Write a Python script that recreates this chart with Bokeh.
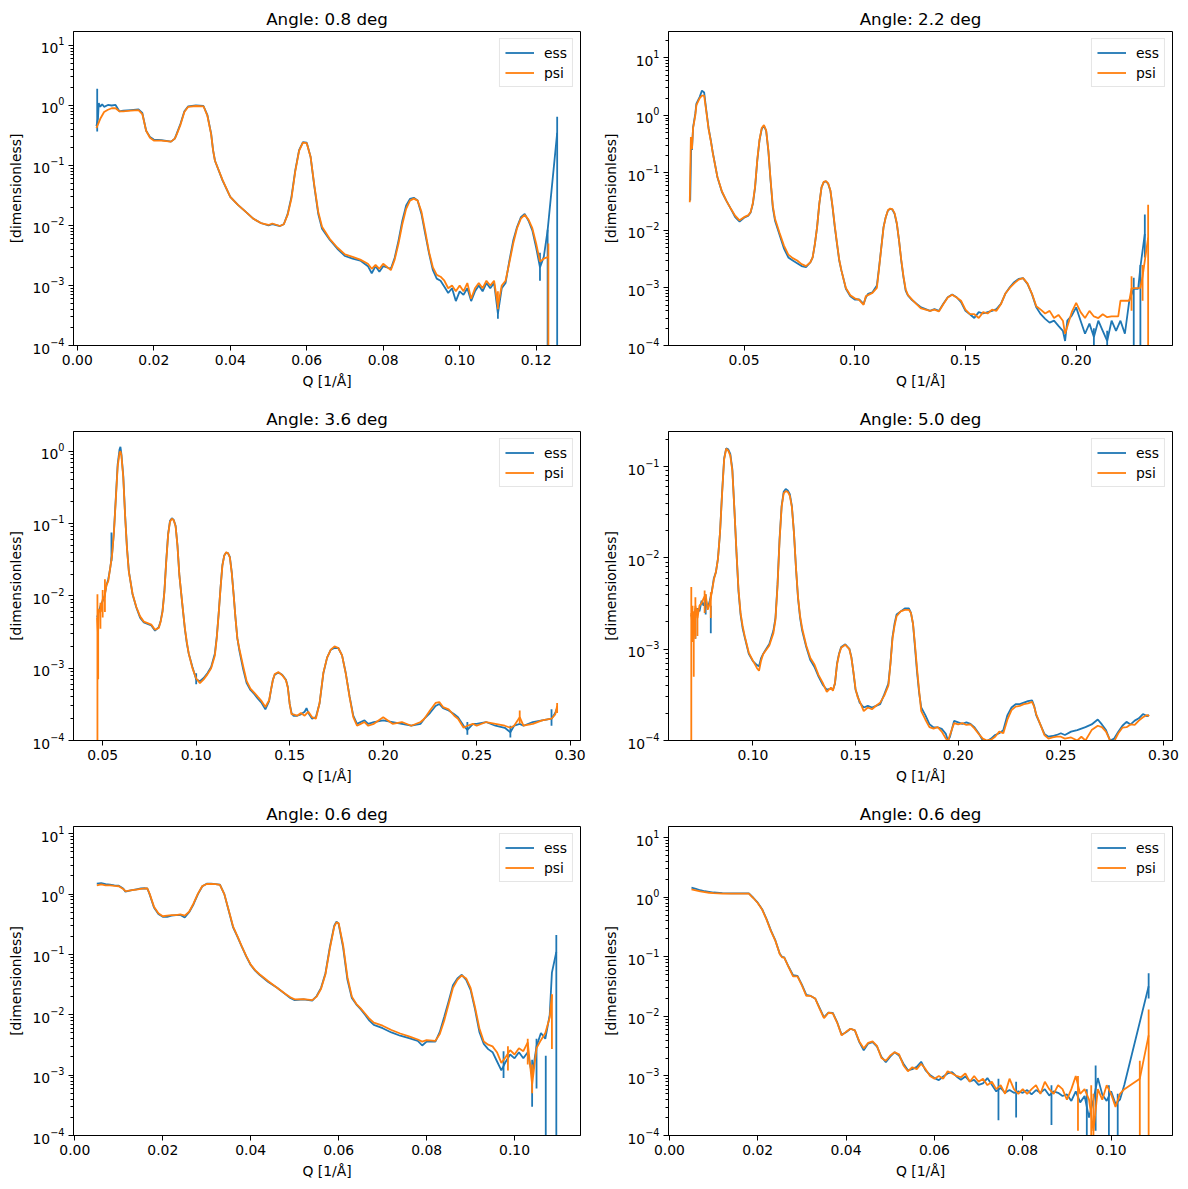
from bokeh.plotting import figure
from bokeh.models import Range1d, FixedTicker, NumeralTickFormatter, LogTicker, LogTickFormatter
from bokeh.layouts import column, row
from bokeh.embed import file_html
from bokeh.resources import INLINE

BLUE = "#1f77b4"
ORANGE = "#ff7f0e"
FONT = "DejaVu Sans"

TITLES = ["Angle: 0.8 deg", "Angle: 2.2 deg", "Angle: 3.6 deg",
          "Angle: 5.0 deg", "Angle: 0.6 deg", "Angle: 0.6 deg"]
X_TICKS = [
    [0.00, 0.02, 0.04, 0.06, 0.08, 0.10, 0.12],
    [0.05, 0.10, 0.15, 0.20],
    [0.05, 0.10, 0.15, 0.20, 0.25, 0.30],
    [0.10, 0.15, 0.20, 0.25, 0.30],
    [0.00, 0.02, 0.04, 0.06, 0.08, 0.10],
    [0.00, 0.02, 0.04, 0.06, 0.08, 0.10],
]
X_LIMS = [(-0.001, 0.1316), (0.0159, 0.2435), (0.0344, 0.3055),
          (0.0589, 0.3044), (-0.0003, 0.1150), (-0.0002, 0.1139)]
Y_LIMS = [(1e-4, 17.1), (1e-4, 28.7), (1e-4, 1.87),
          (1e-4, 0.243), (1e-4, 13.2), (1e-4, 15.4)]
X_LABEL = "Q [1/Å]"
Y_LABEL = "[dimensionless]"
SERIES = ["ess", "psi"]

# ---------------- panel 1: angle 0.8 ----------------
P1_ESS = [(0.0050, 0.45), (0.0054, 0.60), (0.0056, 1.1), (0.0060, 0.95), (0.0065, 1.05), (0.0070, 0.95),
          (0.0080, 1.02), (0.0090, 1.0), (0.0100, 1.02), (0.0110, 0.80), (0.0120, 0.82), (0.0140, 0.84),
          (0.0160, 0.86), (0.0170, 0.75), (0.0180, 0.38), (0.0190, 0.30), (0.0200, 0.27), (0.0220, 0.265),
          (0.0245, 0.25), (0.0255, 0.28), (0.0260, 0.34), (0.0270, 0.50), (0.0280, 0.80), (0.0290, 0.97),
          (0.0310, 1.0), (0.0330, 0.98), (0.0340, 0.70), (0.0350, 0.34), (0.0355, 0.18), (0.0360, 0.12),
          (0.0380, 0.056), (0.0400, 0.030), (0.0420, 0.022), (0.0440, 0.017), (0.0460, 0.013), (0.0480, 0.011),
          (0.0500, 0.010), (0.0510, 0.0105), (0.0530, 0.0098), (0.0540, 0.0105), (0.0550, 0.0155), (0.0560, 0.030),
          (0.0570, 0.083), (0.0580, 0.18), (0.0590, 0.245), (0.0600, 0.24), (0.0610, 0.14), (0.0620, 0.044),
          (0.0630, 0.0157), (0.0640, 0.0088), (0.0660, 0.0058), (0.0680, 0.0041), (0.0700, 0.0031), (0.0720, 0.0028),
          (0.0740, 0.0026), (0.0760, 0.0021), (0.0770, 0.0016), (0.0780, 0.0021), (0.0790, 0.0017), (0.0800, 0.0021),
          (0.0820, 0.0019), (0.0830, 0.0029), (0.0840, 0.0056), (0.0850, 0.012), (0.0860, 0.0215), (0.0870, 0.0278),
          (0.0880, 0.029), (0.0890, 0.026), (0.0900, 0.0156), (0.0910, 0.0072), (0.0920, 0.0034), (0.0930, 0.0018),
          (0.0940, 0.0013), (0.0950, 0.0012), (0.0960, 0.00095), (0.0970, 0.00075), (0.0980, 0.0009), (0.0990, 0.00055),
          (0.1000, 0.0008), (0.1010, 0.0007), (0.1020, 0.0009), (0.1030, 0.00055), (0.1040, 0.0008), (0.1050, 0.0010),
          (0.1060, 0.0008), (0.1070, 0.0011), (0.1080, 0.0009), (0.1090, 0.0011), (0.1100, 0.00034), (0.1110, 0.0009),
          (0.1120, 0.0011), (0.1130, 0.0026), (0.1140, 0.0056), (0.1150, 0.0094), (0.1160, 0.0137), (0.1170, 0.0156),
          (0.1180, 0.012), (0.1190, 0.0083), (0.1200, 0.0043), (0.1210, 0.0020), (0.1220, 0.0030), (0.1230, 0.0083),
          (0.1255, 0.35)]
P1_PSI = [(0.0050, 0.42), (0.0060, 0.60), (0.0070, 0.78), (0.0080, 0.85), (0.0090, 0.90), (0.0100, 0.90),
          (0.0110, 0.80), (0.0120, 0.80), (0.0140, 0.82), (0.0160, 0.84), (0.0170, 0.72), (0.0180, 0.38),
          (0.0190, 0.29), (0.0200, 0.26), (0.0220, 0.26), (0.0245, 0.25), (0.0255, 0.28), (0.0260, 0.33),
          (0.0270, 0.48), (0.0280, 0.78), (0.0290, 0.95), (0.0310, 0.98), (0.0330, 0.97), (0.0340, 0.68),
          (0.0350, 0.33), (0.0355, 0.18), (0.0360, 0.12), (0.0380, 0.057), (0.0400, 0.030), (0.0420, 0.022),
          (0.0440, 0.017), (0.0460, 0.013), (0.0480, 0.011), (0.0500, 0.0102), (0.0510, 0.0108), (0.0530, 0.0098),
          (0.0540, 0.0105), (0.0550, 0.015), (0.0560, 0.028), (0.0570, 0.08), (0.0580, 0.175), (0.0590, 0.24),
          (0.0600, 0.235), (0.0610, 0.14), (0.0620, 0.046), (0.0630, 0.017), (0.0640, 0.0095), (0.0660, 0.006),
          (0.0680, 0.0043), (0.0700, 0.0033), (0.0720, 0.0030), (0.0740, 0.0027), (0.0760, 0.0023), (0.0770, 0.0019),
          (0.0780, 0.0022), (0.0790, 0.0019), (0.0800, 0.0023), (0.0820, 0.0018), (0.0830, 0.0027), (0.0840, 0.0050),
          (0.0850, 0.0105), (0.0860, 0.019), (0.0870, 0.026), (0.0880, 0.028), (0.0890, 0.026), (0.0900, 0.017),
          (0.0910, 0.008), (0.0920, 0.0036), (0.0930, 0.0020), (0.0940, 0.0015), (0.0950, 0.0014), (0.0960, 0.0012),
          (0.0970, 0.0009), (0.0980, 0.0010), (0.0990, 0.0008), (0.1000, 0.0010), (0.1010, 0.0008), (0.1020, 0.0011),
          (0.1030, 0.0006), (0.1040, 0.0009), (0.1050, 0.0011), (0.1060, 0.0009), (0.1070, 0.0012), (0.1080, 0.0010),
          (0.1090, 0.0012), (0.1100, 0.00045), (0.1110, 0.0010), (0.1120, 0.0012), (0.1130, 0.0024), (0.1140, 0.0050),
          (0.1150, 0.0090), (0.1160, 0.013), (0.1170, 0.015), (0.1180, 0.0125), (0.1190, 0.009), (0.1200, 0.005),
          (0.1210, 0.0025), (0.1220, 0.0028), (0.1232, 0.0030)]
P1_ESS_ERR = [(0.0052, 0.37, 1.9), (0.1100, 0.00028, 0.0006), (0.1210, 0.0012, 0.0035),
              (0.1230, 1e-6, 0.0085), (0.1255, 1e-6, 0.65)]
P1_PSI_ERR = [(0.1100, 0.0004, 0.0008), (0.1232, 1e-6, 0.005)]

# ---------------- panel 2: angle 2.2 ----------------
P2_ESS = [(0.0257, 0.033), (0.0262, 0.40), (0.0265, 0.25), (0.0270, 0.62), (0.0280, 1.07), (0.0285, 1.6),
          (0.0300, 2.1), (0.0310, 2.7), (0.0320, 2.5), (0.0330, 1.2), (0.0340, 0.6), (0.0350, 0.37),
          (0.0360, 0.215), (0.0380, 0.084), (0.0400, 0.047), (0.0420, 0.033), (0.0440, 0.024), (0.0460, 0.017),
          (0.0480, 0.0142), (0.0500, 0.0166), (0.0520, 0.0181), (0.0530, 0.0206), (0.0540, 0.029), (0.0550, 0.056),
          (0.0560, 0.165), (0.0570, 0.37), (0.0580, 0.58), (0.0590, 0.66), (0.0600, 0.54), (0.0610, 0.24),
          (0.0620, 0.073), (0.0630, 0.025), (0.0640, 0.0148), (0.0660, 0.0085), (0.0680, 0.0049), (0.0700, 0.0034),
          (0.0720, 0.0030), (0.0740, 0.0027), (0.0760, 0.0024), (0.0780, 0.0023), (0.0800, 0.0028), (0.0810, 0.0034),
          (0.0820, 0.0058), (0.0830, 0.0114), (0.0840, 0.029), (0.0850, 0.056), (0.0860, 0.069), (0.0870, 0.071),
          (0.0880, 0.065), (0.0890, 0.049), (0.0900, 0.025), (0.0910, 0.0114), (0.0920, 0.0058), (0.0930, 0.0030),
          (0.0940, 0.0020), (0.0950, 0.0014), (0.0960, 0.00097), (0.0980, 0.00072), (0.1000, 0.00063), (0.1020, 0.00063),
          (0.1040, 0.00053), (0.1050, 0.00068), (0.1060, 0.00079), (0.1080, 0.00084), (0.1100, 0.0011), (0.1110, 0.0023),
          (0.1120, 0.0051), (0.1130, 0.0114), (0.1140, 0.017), (0.1150, 0.0222), (0.1160, 0.0237), (0.1170, 0.023),
          (0.1180, 0.0194), (0.1190, 0.0131), (0.1200, 0.0067), (0.1210, 0.0030), (0.1220, 0.00154), (0.1230, 0.0009),
          (0.1240, 0.00074), (0.1260, 0.00061), (0.1280, 0.00053), (0.1300, 0.00046), (0.1320, 0.00043), (0.1340, 0.00040),
          (0.1360, 0.00043), (0.1380, 0.00040), (0.1400, 0.00053), (0.1420, 0.00069), (0.1440, 0.00077), (0.1460, 0.00069),
          (0.1480, 0.00057), (0.1500, 0.00040), (0.1520, 0.00035), (0.1540, 0.00030), (0.1560, 0.00038), (0.1580, 0.00036),
          (0.1600, 0.00038), (0.1620, 0.00040), (0.1640, 0.00043), (0.1660, 0.00053), (0.1680, 0.00079), (0.1700, 0.00103),
          (0.1720, 0.00126), (0.1740, 0.00144), (0.1760, 0.00148), (0.1780, 0.00118), (0.1800, 0.00079), (0.1820, 0.00046),
          (0.1840, 0.00035), (0.1860, 0.00029), (0.1880, 0.00025), (0.1900, 0.00027), (0.1920, 0.00022), (0.1940, 0.00018),
          (0.1950, 0.00012), (0.1960, 0.00027), (0.1980, 0.00033), (0.2000, 0.00046), (0.2020, 0.00027), (0.2040, 0.00016),
          (0.2060, 0.00024), (0.2080, 0.00014), (0.2100, 0.00027), (0.2120, 0.00018), (0.2140, 0.00012), (0.2160, 0.00027),
          (0.2180, 0.00018), (0.2200, 0.00027), (0.2220, 0.00016), (0.2240, 0.00061), (0.2260, 0.00097), (0.2280, 0.00097),
          (0.2290, 0.0023), (0.2300, 0.0045), (0.2310, 0.0087)]
P2_PSI = [(0.0255, 0.031), (0.0260, 0.42), (0.0265, 0.26), (0.0270, 0.60), (0.0280, 1.0), (0.0285, 1.5),
          (0.0300, 2.0), (0.0310, 2.2), (0.0320, 2.2), (0.0330, 1.15), (0.0340, 0.58), (0.0350, 0.36),
          (0.0360, 0.21), (0.0380, 0.085), (0.0400, 0.048), (0.0420, 0.033), (0.0440, 0.024), (0.0460, 0.018),
          (0.0480, 0.015), (0.0500, 0.017), (0.0520, 0.0185), (0.0530, 0.021), (0.0540, 0.030), (0.0550, 0.058),
          (0.0560, 0.17), (0.0570, 0.38), (0.0580, 0.60), (0.0590, 0.68), (0.0600, 0.55), (0.0610, 0.25),
          (0.0620, 0.076), (0.0630, 0.027), (0.0640, 0.016), (0.0660, 0.0092), (0.0680, 0.0055), (0.0700, 0.0038),
          (0.0720, 0.0033), (0.0740, 0.0030), (0.0760, 0.0026), (0.0780, 0.0024), (0.0800, 0.0028), (0.0810, 0.0034),
          (0.0820, 0.0058), (0.0830, 0.0114), (0.0840, 0.029), (0.0850, 0.056), (0.0860, 0.070), (0.0870, 0.072),
          (0.0880, 0.066), (0.0890, 0.050), (0.0900, 0.026), (0.0910, 0.012), (0.0920, 0.0060), (0.0930, 0.0031),
          (0.0940, 0.0020), (0.0950, 0.0014), (0.0960, 0.0010), (0.0980, 0.00075), (0.1000, 0.00066), (0.1020, 0.00062),
          (0.1040, 0.00051), (0.1050, 0.00072), (0.1060, 0.00075), (0.1080, 0.00082), (0.1100, 0.0010), (0.1110, 0.0022),
          (0.1120, 0.0050), (0.1130, 0.0112), (0.1140, 0.017), (0.1150, 0.0225), (0.1160, 0.024), (0.1170, 0.0235),
          (0.1180, 0.020), (0.1190, 0.0135), (0.1200, 0.0068), (0.1210, 0.0031), (0.1220, 0.0016), (0.1230, 0.00095),
          (0.1240, 0.00076), (0.1260, 0.00062), (0.1280, 0.00052), (0.1300, 0.00044), (0.1320, 0.00042), (0.1340, 0.00040),
          (0.1360, 0.00042), (0.1380, 0.00039), (0.1400, 0.00052), (0.1420, 0.00068), (0.1440, 0.00076), (0.1460, 0.00068),
          (0.1480, 0.00060), (0.1500, 0.00042), (0.1520, 0.00035), (0.1540, 0.00035), (0.1560, 0.00030), (0.1580, 0.00038),
          (0.1600, 0.00036), (0.1620, 0.00042), (0.1640, 0.00040), (0.1660, 0.00052), (0.1680, 0.00080), (0.1700, 0.0010),
          (0.1720, 0.0012), (0.1740, 0.0014), (0.1760, 0.00148), (0.1780, 0.0012), (0.1800, 0.0008), (0.1820, 0.00048),
          (0.1840, 0.00042), (0.1860, 0.00036), (0.1880, 0.00040), (0.1900, 0.00030), (0.1920, 0.00034), (0.1940, 0.00027),
          (0.1950, 0.00016), (0.1980, 0.00038), (0.2000, 0.00055), (0.2020, 0.00038), (0.2040, 0.00030), (0.2060, 0.00040),
          (0.2080, 0.00032), (0.2100, 0.00030), (0.2120, 0.00035), (0.2140, 0.00031), (0.2160, 0.00032), (0.2190, 0.00032),
          (0.2200, 0.00060), (0.2240, 0.00060), (0.2250, 0.00098), (0.2290, 0.0010), (0.2300, 0.0016), (0.2325, 0.0075)]
P2_ESS_ERR = [(0.2260, 0.0001, 0.0015), (0.2290, 1e-6, 0.0025), (0.2310, 0.0034, 0.019), (0.2080, 0.0001, 0.0002),
              (0.2140, 1e-6, 0.00018)]
P2_PSI_ERR = [(0.2250, 0.0004, 0.0016), (0.2300, 0.0006, 0.0025), (0.2325, 1e-6, 0.028)]

# ---------------- panel 3: angle 3.6 ----------------
P3_ESS = [(0.0470, 0.0050), (0.0480, 0.0062), (0.0490, 0.0075), (0.0500, 0.0085), (0.0510, 0.010), (0.0520, 0.014),
          (0.0530, 0.017), (0.0540, 0.024), (0.0550, 0.037), (0.0560, 0.076), (0.0570, 0.22), (0.0580, 0.65),
          (0.0590, 1.05), (0.0595, 1.15), (0.0600, 0.92), (0.0610, 0.46), (0.0620, 0.13), (0.0630, 0.046),
          (0.0640, 0.022), (0.0660, 0.0104), (0.0680, 0.0069), (0.0700, 0.0050), (0.0720, 0.0043), (0.0740, 0.0041),
          (0.0760, 0.0039), (0.0780, 0.0033), (0.0800, 0.0037), (0.0810, 0.0045), (0.0820, 0.0062), (0.0830, 0.0115),
          (0.0840, 0.031), (0.0850, 0.072), (0.0860, 0.109), (0.0870, 0.118), (0.0880, 0.112), (0.0890, 0.093),
          (0.0900, 0.0495), (0.0910, 0.0194), (0.0920, 0.0107), (0.0930, 0.0060), (0.0940, 0.0034), (0.0950, 0.0022),
          (0.0960, 0.0016), (0.0980, 0.00104), (0.1000, 0.00070), (0.1020, 0.00066), (0.1040, 0.00073), (0.1060, 0.00085),
          (0.1080, 0.00104), (0.1100, 0.0016), (0.1110, 0.0027), (0.1120, 0.0056), (0.1130, 0.0128), (0.1140, 0.0265),
          (0.1150, 0.036), (0.1160, 0.0395), (0.1170, 0.039), (0.1180, 0.0345), (0.1190, 0.0215), (0.1200, 0.0107),
          (0.1210, 0.0050), (0.1220, 0.0026), (0.1230, 0.0018), (0.1250, 0.0010), (0.1270, 0.00062), (0.1290, 0.00050),
          (0.1310, 0.00044), (0.1330, 0.00038), (0.1350, 0.00033), (0.1370, 0.00027), (0.1390, 0.00035), (0.1400, 0.00050),
          (0.1410, 0.00069), (0.1420, 0.00081), (0.1440, 0.00087), (0.1460, 0.00081), (0.1480, 0.00069), (0.1490, 0.00055),
          (0.1500, 0.00032), (0.1510, 0.00024), (0.1520, 0.00022), (0.1540, 0.00022), (0.1560, 0.00023), (0.1580, 0.00025),
          (0.1590, 0.00028), (0.1600, 0.00024), (0.1620, 0.00020), (0.1640, 0.00021), (0.1660, 0.00033), (0.1680, 0.00085),
          (0.1700, 0.0014), (0.1720, 0.0018), (0.1740, 0.0019), (0.1760, 0.0019), (0.1780, 0.0015), (0.1800, 0.00085),
          (0.1820, 0.00041), (0.1840, 0.00022), (0.1860, 0.00017), (0.1880, 0.00018), (0.1900, 0.00019), (0.1920, 0.00017),
          (0.1950, 0.00018), (0.2000, 0.00019), (0.2050, 0.00018), (0.2100, 0.00017), (0.2150, 0.00016), (0.2200, 0.00017),
          (0.2220, 0.00020), (0.2250, 0.00024), (0.2280, 0.00030), (0.2300, 0.00032), (0.2320, 0.00028), (0.2350, 0.00026),
          (0.2380, 0.00023), (0.2400, 0.00021), (0.2430, 0.00016), (0.2450, 0.00014), (0.2480, 0.00017), (0.2500, 0.00017),
          (0.2550, 0.00018), (0.2600, 0.00016), (0.2650, 0.00015), (0.2680, 0.00013), (0.2700, 0.00016), (0.2730, 0.00017),
          (0.2750, 0.00016), (0.2800, 0.00018), (0.2850, 0.00019), (0.2900, 0.00020), (0.2920, 0.00024), (0.2930, 0.00028)]
P3_PSI = [(0.0470, 0.0050), (0.0475, 0.0030), (0.0480, 0.0065), (0.0490, 0.0060), (0.0500, 0.0090), (0.0510, 0.0095),
          (0.0520, 0.0140), (0.0530, 0.0160), (0.0540, 0.0240), (0.0550, 0.036), (0.0560, 0.074), (0.0570, 0.21),
          (0.0580, 0.60), (0.0590, 0.95), (0.0595, 1.0), (0.0600, 0.88), (0.0610, 0.44), (0.0620, 0.127),
          (0.0630, 0.045), (0.0640, 0.0215), (0.0660, 0.0106), (0.0680, 0.0070), (0.0700, 0.0052), (0.0720, 0.0044),
          (0.0740, 0.0042), (0.0760, 0.0040), (0.0780, 0.0034), (0.0800, 0.0036), (0.0810, 0.0044), (0.0820, 0.0060),
          (0.0830, 0.0112), (0.0840, 0.030), (0.0850, 0.070), (0.0860, 0.106), (0.0870, 0.116), (0.0880, 0.111),
          (0.0890, 0.091), (0.0900, 0.049), (0.0910, 0.0195), (0.0920, 0.0108), (0.0930, 0.0061), (0.0940, 0.0035),
          (0.0950, 0.0023), (0.0960, 0.0016), (0.0980, 0.00100), (0.1000, 0.00072), (0.1020, 0.00062), (0.1040, 0.00070),
          (0.1060, 0.00082), (0.1080, 0.00100), (0.1100, 0.0015), (0.1110, 0.0026), (0.1120, 0.0055), (0.1130, 0.0125),
          (0.1140, 0.026), (0.1150, 0.036), (0.1160, 0.040), (0.1170, 0.039), (0.1180, 0.034), (0.1190, 0.021),
          (0.1200, 0.0105), (0.1210, 0.0050), (0.1220, 0.0026), (0.1230, 0.0019), (0.1250, 0.0011), (0.1270, 0.00066),
          (0.1290, 0.00052), (0.1310, 0.00046), (0.1330, 0.00040), (0.1350, 0.00035), (0.1370, 0.00029), (0.1390, 0.00036),
          (0.1400, 0.00050), (0.1410, 0.00068), (0.1420, 0.00083), (0.1440, 0.00088), (0.1460, 0.00080), (0.1480, 0.00068),
          (0.1490, 0.00054), (0.1500, 0.00032), (0.1510, 0.00023), (0.1520, 0.00023), (0.1540, 0.00022), (0.1560, 0.00024),
          (0.1580, 0.00022), (0.1600, 0.00025), (0.1620, 0.00021), (0.1640, 0.00020), (0.1660, 0.00033), (0.1680, 0.00086),
          (0.1700, 0.0014), (0.1720, 0.0018), (0.1740, 0.0020), (0.1760, 0.0019), (0.1780, 0.0015), (0.1800, 0.00084),
          (0.1820, 0.00040), (0.1840, 0.00021), (0.1860, 0.00016), (0.1880, 0.00017), (0.1900, 0.00018), (0.1920, 0.00016),
          (0.1950, 0.00017), (0.2000, 0.00021), (0.2050, 0.00017), (0.2100, 0.00018), (0.2150, 0.00016), (0.2200, 0.00018),
          (0.2220, 0.00020), (0.2250, 0.00026), (0.2280, 0.00033), (0.2300, 0.00034), (0.2320, 0.00029), (0.2350, 0.00027),
          (0.2380, 0.00022), (0.2400, 0.00020), (0.2430, 0.00015), (0.2450, 0.00016), (0.2480, 0.00017), (0.2500, 0.00016),
          (0.2550, 0.00018), (0.2600, 0.00017), (0.2650, 0.00016), (0.2680, 0.00015), (0.2700, 0.00016), (0.2730, 0.00021),
          (0.2750, 0.00016), (0.2800, 0.00017), (0.2850, 0.00019), (0.2900, 0.00020), (0.2920, 0.00023), (0.2930, 0.00030)]
P3_ESS_ERR = [(0.0547, 0.03, 0.075), (0.1000, 0.0006, 0.00085), (0.2450, 0.00012, 0.00018),
              (0.2680, 0.00011, 0.00016), (0.2900, 0.00016, 0.00027)]
P3_PSI_ERR = [(0.0472, 1e-6, 0.0105), (0.0476, 0.0007, 0.0055), (0.0488, 0.0035, 0.008), (0.0500, 0.005, 0.012),
              (0.0512, 0.006, 0.017), (0.2730, 0.00017, 0.00026), (0.2930, 0.00024, 0.00033)]

# ---------------- panel 4: angle 5.0 ----------------
P4_ESS = [(0.0700, 0.0024), (0.0710, 0.0019), (0.0720, 0.0026), (0.0730, 0.0028), (0.0740, 0.0026), (0.0750, 0.0034),
          (0.0760, 0.0030), (0.0770, 0.0036), (0.0780, 0.0028), (0.0790, 0.0034), (0.0800, 0.0043), (0.0810, 0.0060),
          (0.0820, 0.0070), (0.0830, 0.0099), (0.0840, 0.019), (0.0850, 0.052), (0.0860, 0.123), (0.0870, 0.159),
          (0.0880, 0.155), (0.0890, 0.138), (0.0900, 0.094), (0.0910, 0.034), (0.0920, 0.0116), (0.0930, 0.0043),
          (0.0940, 0.0024), (0.0950, 0.0017), (0.0960, 0.00136), (0.0980, 0.00089), (0.1000, 0.00074), (0.1020, 0.00067),
          (0.1030, 0.00065), (0.1040, 0.00080), (0.1050, 0.00089), (0.1060, 0.00097), (0.1080, 0.00114), (0.1100, 0.0016),
          (0.1110, 0.0022), (0.1120, 0.0051), (0.1130, 0.0162), (0.1140, 0.037), (0.1150, 0.053), (0.1160, 0.057),
          (0.1170, 0.055), (0.1180, 0.050), (0.1190, 0.037), (0.1200, 0.019), (0.1210, 0.0077), (0.1220, 0.0036),
          (0.1230, 0.0022), (0.1240, 0.0016), (0.1260, 0.00106), (0.1280, 0.00076), (0.1300, 0.00064), (0.1320, 0.00050),
          (0.1340, 0.00041), (0.1360, 0.00036), (0.1380, 0.00037), (0.1390, 0.00036), (0.1400, 0.00042), (0.1410, 0.00070),
          (0.1420, 0.00090), (0.1430, 0.00106), (0.1450, 0.00113), (0.1470, 0.00101), (0.1480, 0.00082), (0.1490, 0.00055),
          (0.1500, 0.00036), (0.1510, 0.00031), (0.1520, 0.00026), (0.1540, 0.00023), (0.1560, 0.00024), (0.1580, 0.00023),
          (0.1600, 0.00024), (0.1620, 0.00025), (0.1640, 0.00032), (0.1660, 0.00042), (0.1670, 0.00070), (0.1680, 0.00136),
          (0.1690, 0.0019), (0.1700, 0.0024), (0.1720, 0.0026), (0.1740, 0.0028), (0.1760, 0.0028), (0.1770, 0.0025),
          (0.1780, 0.0019), (0.1790, 0.00103), (0.1800, 0.00055), (0.1810, 0.00033), (0.1820, 0.00023), (0.1840, 0.00019),
          (0.1860, 0.000151), (0.1880, 0.000139), (0.1900, 0.000139), (0.1920, 0.000134), (0.1940, 0.000118), (0.1950, 0.000100),
          (0.1960, 0.000110), (0.1980, 0.000164), (0.2000, 0.000158), (0.2020, 0.000152), (0.2040, 0.000158), (0.2060, 0.000152),
          (0.2080, 0.000139), (0.2100, 0.000120), (0.2120, 0.000100), (0.2140, 0.000098), (0.2160, 0.000105), (0.2180, 0.000115),
          (0.2200, 0.000120), (0.2220, 0.000130), (0.2240, 0.000190), (0.2260, 0.000230), (0.2280, 0.000250), (0.2300, 0.000250),
          (0.2320, 0.000260), (0.2340, 0.000270), (0.2360, 0.000275), (0.2370, 0.000240), (0.2380, 0.000190), (0.2400, 0.000150),
          (0.2420, 0.000118), (0.2440, 0.000110), (0.2460, 0.000112), (0.2480, 0.000115), (0.2500, 0.000120), (0.2520, 0.000115),
          (0.2550, 0.000125), (0.2580, 0.000130), (0.2600, 0.000135), (0.2620, 0.000140), (0.2650, 0.000150), (0.2680, 0.000170),
          (0.2700, 0.000150), (0.2720, 0.000130), (0.2740, 0.000100), (0.2760, 0.000105), (0.2780, 0.000125), (0.2800, 0.000145),
          (0.2820, 0.000160), (0.2840, 0.000150), (0.2860, 0.000165), (0.2880, 0.000175), (0.2900, 0.000195), (0.2920, 0.000185),
          (0.2930, 0.000190)]
P4_PSI = [(0.0700, 0.0025), (0.0705, 0.0018), (0.0712, 0.0014), (0.0720, 0.0030), (0.0730, 0.0022), (0.0740, 0.0030),
          (0.0750, 0.0032), (0.0760, 0.0036), (0.0770, 0.0040), (0.0780, 0.0027), (0.0790, 0.0032), (0.0800, 0.0042),
          (0.0810, 0.0058), (0.0820, 0.0070), (0.0830, 0.0098), (0.0840, 0.019), (0.0850, 0.050), (0.0860, 0.120),
          (0.0870, 0.158), (0.0880, 0.150), (0.0890, 0.132), (0.0900, 0.090), (0.0910, 0.034), (0.0920, 0.0118),
          (0.0930, 0.0045), (0.0940, 0.0025), (0.0950, 0.0018), (0.0960, 0.00140), (0.0980, 0.00092), (0.1000, 0.00075),
          (0.1020, 0.00062), (0.1030, 0.00058), (0.1040, 0.00075), (0.1050, 0.00088), (0.1060, 0.00095), (0.1080, 0.00110),
          (0.1100, 0.0015), (0.1110, 0.0021), (0.1120, 0.0049), (0.1130, 0.0155), (0.1140, 0.036), (0.1150, 0.051),
          (0.1160, 0.054), (0.1170, 0.053), (0.1180, 0.048), (0.1190, 0.036), (0.1200, 0.019), (0.1210, 0.0078),
          (0.1220, 0.0037), (0.1230, 0.0023), (0.1240, 0.0017), (0.1260, 0.00110), (0.1280, 0.00080), (0.1300, 0.00068),
          (0.1320, 0.00052), (0.1340, 0.00043), (0.1360, 0.00034), (0.1380, 0.00038), (0.1390, 0.00035), (0.1400, 0.00043),
          (0.1410, 0.00068), (0.1420, 0.00088), (0.1430, 0.00104), (0.1450, 0.00112), (0.1470, 0.00100), (0.1480, 0.00080),
          (0.1490, 0.00056), (0.1500, 0.00037), (0.1510, 0.00030), (0.1520, 0.00027), (0.1540, 0.00021), (0.1560, 0.00023),
          (0.1580, 0.00022), (0.1600, 0.00024), (0.1620, 0.00026), (0.1640, 0.00031), (0.1660, 0.00040), (0.1670, 0.00068),
          (0.1680, 0.00130), (0.1690, 0.0018), (0.1700, 0.0023), (0.1720, 0.0026), (0.1740, 0.0027), (0.1760, 0.0027),
          (0.1770, 0.0025), (0.1780, 0.0019), (0.1790, 0.00110), (0.1800, 0.00060), (0.1810, 0.00035), (0.1820, 0.00021),
          (0.1840, 0.00017), (0.1860, 0.000140), (0.1880, 0.000135), (0.1900, 0.000140), (0.1920, 0.000125), (0.1940, 0.000105),
          (0.1950, 0.000098), (0.1960, 0.000115), (0.1980, 0.000155), (0.2000, 0.000150), (0.2020, 0.000155), (0.2040, 0.000148),
          (0.2060, 0.000150), (0.2080, 0.000135), (0.2100, 0.000118), (0.2120, 0.000105), (0.2140, 0.000100), (0.2160, 0.000102),
          (0.2180, 0.000110), (0.2200, 0.000125), (0.2220, 0.000120), (0.2240, 0.000170), (0.2260, 0.000215), (0.2280, 0.000235),
          (0.2300, 0.000240), (0.2320, 0.000250), (0.2340, 0.000255), (0.2360, 0.000265), (0.2370, 0.000235), (0.2380, 0.000195),
          (0.2400, 0.000150), (0.2420, 0.000115), (0.2440, 0.000105), (0.2460, 0.000108), (0.2480, 0.000110), (0.2500, 0.000110),
          (0.2520, 0.000105), (0.2550, 0.000108), (0.2580, 0.000100), (0.2600, 0.000110), (0.2620, 0.000100), (0.2650, 0.000130),
          (0.2680, 0.000145), (0.2700, 0.000140), (0.2720, 0.000125), (0.2740, 0.000100), (0.2760, 0.000098), (0.2780, 0.000120),
          (0.2800, 0.000138), (0.2820, 0.000140), (0.2840, 0.000150), (0.2860, 0.000148), (0.2880, 0.000165), (0.2900, 0.000180),
          (0.2920, 0.000190), (0.2930, 0.000185)]
P4_ESS_ERR = [(0.0770, 0.0024, 0.0040), (0.0795, 0.0015, 0.0030), (0.0720, 0.0013, 0.0028)]
P4_PSI_ERR = [(0.0700, 1e-6, 0.0048), (0.0706, 0.0012, 0.0030), (0.0712, 0.0005, 0.0026), (0.0720, 0.0013, 0.0037),
              (0.0730, 0.0014, 0.0028), (0.0765, 0.0025, 0.0044), (0.0795, 0.0022, 0.0042)]

# ---------------- panel 5: angle 0.6 (left) ----------------
P5_ESS = [(0.0050, 1.49), (0.0060, 1.52), (0.0070, 1.46), (0.0080, 1.44), (0.0090, 1.40), (0.0100, 1.38),
          (0.0110, 1.24), (0.0115, 1.10), (0.0120, 1.12), (0.0130, 1.16), (0.0140, 1.20), (0.0150, 1.24),
          (0.0160, 1.25), (0.0165, 1.24), (0.0170, 1.00), (0.0180, 0.60), (0.0190, 0.47), (0.0200, 0.42),
          (0.0210, 0.42), (0.0220, 0.44), (0.0230, 0.45), (0.0240, 0.45), (0.0250, 0.41), (0.0260, 0.50),
          (0.0270, 0.68), (0.0280, 1.00), (0.0290, 1.35), (0.0300, 1.49), (0.0310, 1.49), (0.0320, 1.47),
          (0.0330, 1.44), (0.0340, 1.00), (0.0350, 0.53), (0.0360, 0.28), (0.0370, 0.195), (0.0380, 0.133),
          (0.0390, 0.092), (0.0400, 0.067), (0.0410, 0.054), (0.0420, 0.046), (0.0440, 0.035), (0.0460, 0.028),
          (0.0480, 0.0216), (0.0490, 0.019), (0.0500, 0.0175), (0.0520, 0.0180), (0.0540, 0.0172), (0.0550, 0.0205),
          (0.0560, 0.028), (0.0570, 0.049), (0.0580, 0.133), (0.0590, 0.30), (0.0595, 0.35), (0.0600, 0.32),
          (0.0610, 0.133), (0.0620, 0.038), (0.0630, 0.019), (0.0640, 0.0149), (0.0650, 0.0124), (0.0660, 0.0100),
          (0.0670, 0.0080), (0.0680, 0.0068), (0.0700, 0.0060), (0.0720, 0.0051), (0.0740, 0.0045), (0.0760, 0.0041),
          (0.0780, 0.0037), (0.0790, 0.0031), (0.0800, 0.0036), (0.0820, 0.0036), (0.0830, 0.0052), (0.0840, 0.0092),
          (0.0850, 0.0167), (0.0860, 0.031), (0.0870, 0.040), (0.0880, 0.046), (0.0890, 0.038), (0.0900, 0.026),
          (0.0910, 0.0124), (0.0920, 0.0052), (0.0930, 0.0033), (0.0940, 0.0027), (0.0950, 0.0024), (0.0960, 0.0017),
          (0.0970, 0.0012), (0.0980, 0.00167), (0.0990, 0.0022), (0.1000, 0.0019), (0.1010, 0.0024), (0.1020, 0.0019),
          (0.1030, 0.0024), (0.1040, 0.0010), (0.1050, 0.0030), (0.1060, 0.0050), (0.1070, 0.0040), (0.1080, 0.010),
          (0.1085, 0.050), (0.1095, 0.11)]
P5_PSI = [(0.0050, 1.40), (0.0060, 1.45), (0.0070, 1.40), (0.0080, 1.40), (0.0090, 1.37), (0.0100, 1.35),
          (0.0110, 1.22), (0.0115, 1.12), (0.0120, 1.13), (0.0130, 1.16), (0.0140, 1.19), (0.0150, 1.22),
          (0.0160, 1.25), (0.0165, 1.24), (0.0170, 1.02), (0.0180, 0.62), (0.0190, 0.48), (0.0200, 0.43),
          (0.0210, 0.44), (0.0220, 0.45), (0.0230, 0.45), (0.0240, 0.46), (0.0250, 0.44), (0.0260, 0.51),
          (0.0270, 0.70), (0.0280, 1.02), (0.0290, 1.36), (0.0300, 1.47), (0.0310, 1.47), (0.0320, 1.46),
          (0.0330, 1.42), (0.0340, 1.00), (0.0350, 0.54), (0.0360, 0.29), (0.0370, 0.20), (0.0380, 0.135),
          (0.0390, 0.094), (0.0400, 0.068), (0.0410, 0.055), (0.0420, 0.047), (0.0440, 0.036), (0.0460, 0.028),
          (0.0480, 0.022), (0.0490, 0.0195), (0.0500, 0.018), (0.0520, 0.0182), (0.0540, 0.0175), (0.0550, 0.020),
          (0.0560, 0.027), (0.0570, 0.047), (0.0580, 0.125), (0.0590, 0.29), (0.0595, 0.34), (0.0600, 0.33),
          (0.0610, 0.145), (0.0620, 0.042), (0.0630, 0.020), (0.0640, 0.0152), (0.0650, 0.0128), (0.0660, 0.0105),
          (0.0670, 0.0086), (0.0680, 0.0074), (0.0700, 0.0066), (0.0720, 0.0056), (0.0740, 0.0049), (0.0760, 0.0044),
          (0.0780, 0.0039), (0.0790, 0.0036), (0.0800, 0.0038), (0.0820, 0.0037), (0.0830, 0.0048), (0.0840, 0.0080),
          (0.0850, 0.0150), (0.0860, 0.028), (0.0870, 0.038), (0.0880, 0.045), (0.0890, 0.040), (0.0900, 0.028),
          (0.0910, 0.0135), (0.0920, 0.0060), (0.0930, 0.0036), (0.0940, 0.0032), (0.0950, 0.0030), (0.0960, 0.0024),
          (0.0970, 0.0016), (0.0980, 0.0020), (0.0990, 0.0026), (0.1000, 0.0022), (0.1010, 0.0028), (0.1020, 0.0025),
          (0.1030, 0.0035), (0.1040, 0.0007), (0.1050, 0.0028), (0.1060, 0.0038), (0.1070, 0.0050), (0.1080, 0.0090),
          (0.1085, 0.0216)]
P5_ESS_ERR = [(0.0975, 0.0009, 0.0025), (0.1040, 0.0003, 0.0018), (0.1050, 0.0006, 0.004),
              (0.1071, 1e-6, 0.0021), (0.1095, 1e-6, 0.21)]
P5_PSI_ERR = [(0.0985, 0.0012, 0.003), (0.1030, 0.0015, 0.004), (0.1040, 0.0005, 0.0015),
              (0.1085, 0.0027, 0.022)]

# ---------------- panel 6: angle 0.6 (right) ----------------
P6_ESS = [(0.0050, 1.45), (0.0060, 1.38), (0.0070, 1.31), (0.0080, 1.26), (0.0090, 1.23), (0.0100, 1.20),
          (0.0120, 1.17), (0.0140, 1.16), (0.0160, 1.16), (0.0180, 1.16), (0.0190, 0.98), (0.0200, 0.81),
          (0.0210, 0.63), (0.0220, 0.43), (0.0230, 0.275), (0.0240, 0.188), (0.0250, 0.112), (0.0255, 0.100),
          (0.0260, 0.098), (0.0270, 0.068), (0.0280, 0.049), (0.0290, 0.048), (0.0300, 0.034), (0.0310, 0.023),
          (0.0320, 0.022), (0.0330, 0.020), (0.0340, 0.0139), (0.0350, 0.0096), (0.0360, 0.0116), (0.0370, 0.0114),
          (0.0380, 0.0079), (0.0390, 0.0049), (0.0400, 0.0054), (0.0410, 0.0062), (0.0420, 0.0058), (0.0430, 0.0037),
          (0.0440, 0.0027), (0.0450, 0.0035), (0.0460, 0.0037), (0.0470, 0.0031), (0.0480, 0.0021), (0.0490, 0.0017),
          (0.0500, 0.0021), (0.0510, 0.0025), (0.0520, 0.0022), (0.0530, 0.0016), (0.0540, 0.00124), (0.0550, 0.0013),
          (0.0560, 0.00142), (0.0570, 0.00173), (0.0580, 0.00124), (0.0590, 0.00104), (0.0600, 0.00092), (0.0610, 0.00085),
          (0.0620, 0.00098), (0.0630, 0.0011), (0.0640, 0.00116), (0.0650, 0.00098), (0.0660, 0.00086), (0.0670, 0.00098),
          (0.0680, 0.00081), (0.0690, 0.00086), (0.0700, 0.00071), (0.0710, 0.00075), (0.0720, 0.00092), (0.0730, 0.00071),
          (0.0740, 0.00055), (0.0750, 0.00063), (0.0760, 0.00052), (0.0770, 0.00058), (0.0780, 0.00052), (0.0790, 0.00055),
          (0.0800, 0.00052), (0.0810, 0.00058), (0.0820, 0.00049), (0.0830, 0.00058), (0.0840, 0.00052), (0.0850, 0.00060),
          (0.0860, 0.00047), (0.0870, 0.00055), (0.0880, 0.00052), (0.0890, 0.00046), (0.0900, 0.00049), (0.0910, 0.00038),
          (0.0920, 0.00055), (0.0930, 0.00036), (0.0940, 0.00046), (0.0950, 0.00020), (0.0960, 0.00040), (0.0970, 0.00092),
          (0.0980, 0.00049), (0.0990, 0.00038), (0.1000, 0.00055), (0.1010, 0.00034), (0.1020, 0.00040), (0.1030, 0.00071),
          (0.1085, 0.032)]
P6_PSI = [(0.0050, 1.35), (0.0060, 1.30), (0.0070, 1.25), (0.0080, 1.22), (0.0090, 1.19), (0.0100, 1.17),
          (0.0120, 1.15), (0.0140, 1.15), (0.0160, 1.15), (0.0180, 1.15), (0.0190, 0.97), (0.0200, 0.80),
          (0.0210, 0.62), (0.0220, 0.42), (0.0230, 0.27), (0.0240, 0.185), (0.0250, 0.110), (0.0255, 0.098),
          (0.0260, 0.097), (0.0270, 0.067), (0.0280, 0.047), (0.0290, 0.047), (0.0300, 0.033), (0.0310, 0.022),
          (0.0320, 0.022), (0.0330, 0.020), (0.0340, 0.0135), (0.0350, 0.0093), (0.0360, 0.0115), (0.0370, 0.0112),
          (0.0380, 0.0078), (0.0390, 0.0048), (0.0400, 0.0055), (0.0410, 0.0062), (0.0420, 0.0058), (0.0430, 0.0038),
          (0.0440, 0.0029), (0.0450, 0.0036), (0.0460, 0.0038), (0.0470, 0.0032), (0.0480, 0.0020), (0.0490, 0.0018),
          (0.0500, 0.0022), (0.0510, 0.0025), (0.0520, 0.0023), (0.0530, 0.0015), (0.0540, 0.0012), (0.0550, 0.0014),
          (0.0560, 0.0013), (0.0570, 0.0016), (0.0580, 0.0013), (0.0590, 0.0010), (0.0600, 0.0009), (0.0610, 0.0010),
          (0.0620, 0.0009), (0.0630, 0.0012), (0.0640, 0.0011), (0.0650, 0.0010), (0.0660, 0.00095), (0.0670, 0.0011),
          (0.0680, 0.0008), (0.0690, 0.0010), (0.0700, 0.0008), (0.0710, 0.0009), (0.0720, 0.0007), (0.0730, 0.0008),
          (0.0740, 0.0006), (0.0750, 0.0007), (0.0760, 0.0005), (0.0770, 0.0009), (0.0780, 0.0006), (0.0790, 0.0005),
          (0.0800, 0.0006), (0.0810, 0.0005), (0.0820, 0.0006), (0.0830, 0.0007), (0.0840, 0.0005), (0.0850, 0.0008),
          (0.0860, 0.0006), (0.0870, 0.0005), (0.0880, 0.0007), (0.0890, 0.0006), (0.0900, 0.0004), (0.0910, 0.0006),
          (0.0920, 0.0010), (0.0930, 0.0005), (0.0940, 0.0006), (0.0950, 0.0004), (0.0960, 0.00012), (0.0970, 0.0006),
          (0.0980, 0.0004), (0.0990, 0.0007), (0.1000, 0.0005), (0.1010, 0.0003), (0.1020, 0.0005), (0.1030, 0.0006),
          (0.1065, 0.0009), (0.1085, 0.0048)]
P6_ESS_ERR = [(0.0745, 0.00018, 0.0009), (0.0785, 0.0002, 0.0008), (0.0865, 0.00015, 0.0007), (0.0945, 0.00008, 0.0006),
              (0.0965, 0.00012, 0.0015), (0.0995, 0.00009, 0.0007), (0.1015, 0.00005, 0.0005), (0.1085, 0.02, 0.053)]
P6_PSI_ERR = [(0.0925, 0.00012, 0.0010), (0.0955, 0.00004, 0.0007), (0.0960, 0.00005, 0.0005),
              (0.1065, 1e-6, 0.0018), (0.1085, 1e-6, 0.013)]

PANELS = [
    (P1_ESS, P1_PSI, P1_ESS_ERR, P1_PSI_ERR),
    (P2_ESS, P2_PSI, P2_ESS_ERR, P2_PSI_ERR),
    (P3_ESS, P3_PSI, P3_ESS_ERR, P3_PSI_ERR),
    (P4_ESS, P4_PSI, P4_ESS_ERR, P4_PSI_ERR),
    (P5_ESS, P5_PSI, P5_ESS_ERR, P5_PSI_ERR),
    (P6_ESS, P6_PSI, P6_ESS_ERR, P6_PSI_ERR),
]

# borders (px) around each 507x314 plotting frame, per column / row
COL_BORDERS = [(73, 20), (65, 16)]
ROW_BORDERS = [(31, 58), (23, 58), (23, 54)]


def make_panel(i):
    ess, psi, ess_err, psi_err = PANELS[i]
    left_b, right_b = COL_BORDERS[i % 2]
    top_b, bottom_b = ROW_BORDERS[i // 2]
    p = figure(
        width=left_b + 507 + right_b, height=top_b + 314 + bottom_b,
        x_range=Range1d(*X_LIMS[i]), y_range=Range1d(*Y_LIMS[i]),
        y_axis_type="log", output_backend="svg", toolbar_location=None,
        min_border_left=left_b, min_border_right=right_b,
        min_border_top=top_b, min_border_bottom=bottom_b,
        title=TITLES[i],
    )
    p.title.text_font = FONT
    p.title.text_font_size = "16.7px"
    p.title.text_font_style = "normal"
    p.title.text_color = "black"
    p.title.align = "center"
    p.title.standoff = 6
    p.xgrid.visible = False
    p.ygrid.visible = False
    p.outline_line_color = "black"
    p.outline_line_width = 1
    p.outline_line_alpha = 1
    p.background_fill_color = "white"
    p.border_fill_color = "white"

    p.xaxis.ticker = FixedTicker(ticks=X_TICKS[i])
    p.xaxis.formatter = NumeralTickFormatter(format="0.00")
    p.yaxis.ticker = LogTicker(num_minor_ticks=10)
    p.yaxis.formatter = LogTickFormatter()
    p.xaxis.axis_label = X_LABEL
    p.yaxis.axis_label = Y_LABEL
    for ax in (p.xaxis, p.yaxis):
        ax.axis_label_text_font = FONT
        ax.axis_label_text_font_size = "13.9px"
        ax.axis_label_text_font_style = "normal"
        ax.axis_label_text_color = "black"
        ax.axis_label_standoff = 5
        ax.major_label_text_font = FONT
        ax.major_label_text_font_size = "13.9px"
        ax.major_label_text_color = "black"
        ax.major_label_standoff = 4
        ax.major_tick_in = 0
        ax.major_tick_out = 5
        ax.minor_tick_in = 0
        ax.minor_tick_out = 3
        ax.axis_line_color = "black"
        ax.major_tick_line_color = "black"
        ax.minor_tick_line_color = "black"
    p.xaxis.minor_tick_line_color = None

    for data, err, color, name in ((ess, ess_err, BLUE, SERIES[0]), (psi, psi_err, ORANGE, SERIES[1])):
        q = [d[0] for d in data]
        r = [d[1] for d in data]
        eq = [e[0] for e in err]
        lo = [e[1] for e in err]
        hi = [e[2] for e in err]
        p.segment(x0=eq, y0=lo, x1=eq, y1=hi, line_color=color, line_width=1.8)
        p.line(q, r, line_color=color, line_width=1.8, legend_label=name)

    lg = p.legend[0]
    lg.location = "top_right"
    lg.margin = 7
    lg.padding = 5
    lg.spacing = 3
    lg.label_height = 17
    lg.glyph_height = 17
    lg.glyph_width = 29
    lg.label_standoff = 10
    lg.label_text_font = FONT
    lg.label_text_font_size = "13.9px"
    lg.label_text_color = "black"
    lg.border_line_color = "#cccccc"
    lg.border_line_width = 1
    lg.background_fill_alpha = 0.8
    return p


plots = [make_panel(i) for i in range(6)]
layout = column(row(plots[0], plots[1]), row(plots[2], plots[3]), row(plots[4], plots[5]))
open("out.html", "w").write(file_html(layout, INLINE))
